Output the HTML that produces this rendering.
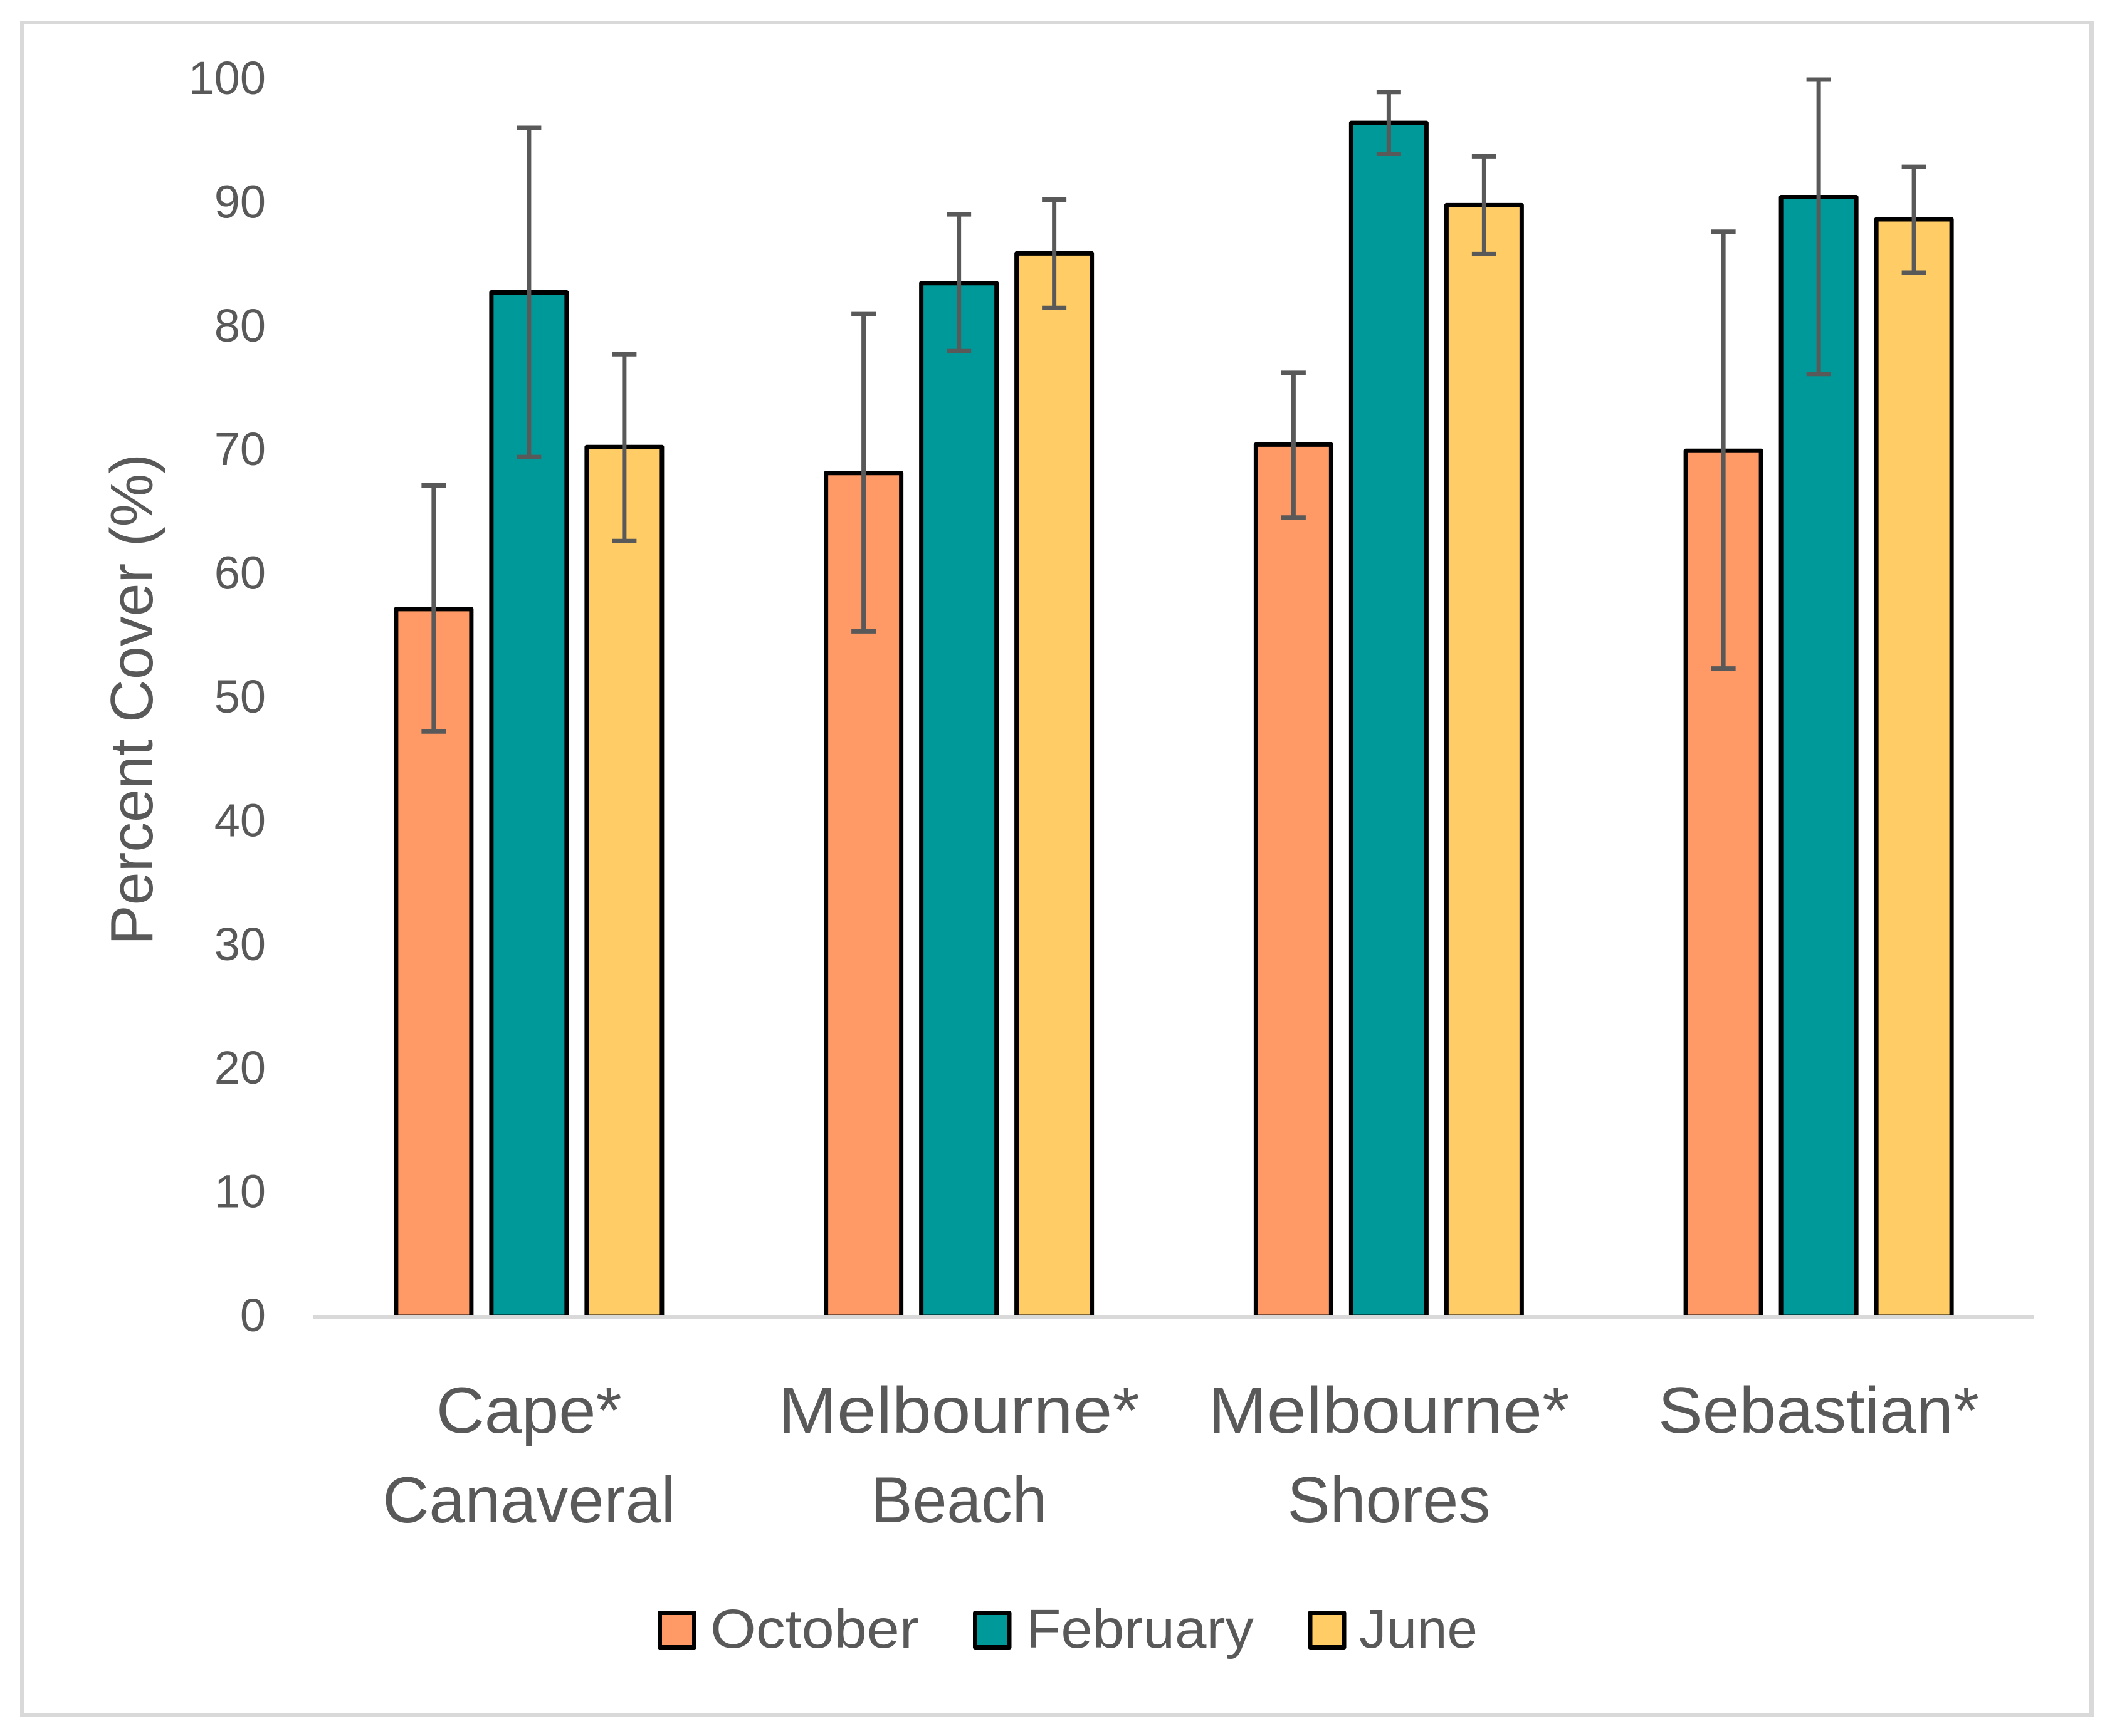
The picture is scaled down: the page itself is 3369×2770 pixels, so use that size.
<!DOCTYPE html>
<html lang="en">
<head>
<meta charset="utf-8">
<title>Percent Cover Chart</title>
<style>
html,body{margin:0;padding:0;background:#fff;}
svg{display:block;}
text{font-family:"Liberation Sans",sans-serif;fill:#595959;}
</style>
</head>
<body>
<svg id="chart" xmlns="http://www.w3.org/2000/svg" width="3369" height="2770" viewBox="0 0 3369 2770">
  <rect x="0" y="0" width="3369" height="2770" fill="#ffffff"/>
  <path fill="#d9d9d9" fill-rule="evenodd" d="M32 34H3340V2740H32Z M39 38V2733H3333V38Z"/>
  <text transform="translate(243,1116) rotate(-90)" text-anchor="middle" font-size="96" textLength="784" lengthAdjust="spacingAndGlyphs">Percent Cover (%)</text>
  <g id="y-ticks"></g>
  <g id="bars"></g>
  <rect x="500" y="2098" width="2745" height="7" fill="#d9d9d9"/>
  <g id="errors"></g>
  <g id="x-labels"></g>
  <g>
    <g>
      <rect x="1052.5" y="2573.5" width="55" height="55" fill="#ff9966" stroke="#000" stroke-width="7" stroke-linejoin="round"/>
      <text x="1133" y="2629" font-size="87" textLength="333" lengthAdjust="spacingAndGlyphs">October</text>
    </g>
    <g>
      <rect x="1555.5" y="2573.5" width="54.5" height="55" fill="#009999" stroke="#000" stroke-width="7" stroke-linejoin="round"/>
      <text x="1637" y="2629" font-size="87" textLength="363" lengthAdjust="spacingAndGlyphs">February</text>
    </g>
    <g>
      <rect x="2090" y="2573.5" width="54" height="55" fill="#ffcc66" stroke="#000" stroke-width="7" stroke-linejoin="round"/>
      <text x="2168" y="2629" font-size="87" textLength="189" lengthAdjust="spacingAndGlyphs">June</text>
    </g>
  </g>
</svg>
<script>
const categoryLines = [["Cape*", "Canaveral"], ["Melbourne*", "Beach"], ["Melbourne*", "Shores"], ["Sebastian*"]];
const seriesNames = ["october", "february", "june"];
const octoberValues = [57.2, 68.2, 70.5, 70.0];
const februaryValues = [82.8, 83.55, 96.5, 90.5];
const juneValues = [70.3, 85.95, 89.85, 88.7];
const octoberHigh = [67.2, 81.05, 76.3, 87.7];
const octoberLow = [47.3, 55.4, 64.6, 52.4];
const februaryHigh = [96.1, 89.1, 99.0, 100];
const februaryLow = [69.5, 78.05, 94.0, 76.2];
const juneHigh = [77.8, 90.3, 93.8, 92.95];
const juneLow = [62.7, 81.55, 85.9, 84.4];
const yTickLabels = [0, 10, 20, 30, 40, 50, 60, 70, 80, 90, 100];

const NS = "http://www.w3.org/2000/svg";
const seriesValues = [octoberValues, februaryValues, juneValues];
const seriesHigh = [octoberHigh, februaryHigh, juneHigh];
const seriesLow = [octoberLow, februaryLow, juneLow];
const seriesColors = ["#ff9966", "#009999", "#ffcc66"];
const labelFit = { "Cape*": 296, "Canaveral": 467, "Melbourne*": 577, "Beach": 280, "Shores": 324, "Sebastian*": 512 };

const plotLeft = 501, plotRight = 3244, yZero = 2101, yHundred = 127;
const barSpacing = 152, barWidth = 120, capHalf = 19.5;

function yScale(v) {
  return yZero - (v / 100) * (yZero - yHundred);
}
function groupCenter(i) {
  return plotLeft + (plotRight - plotLeft) * (i + 0.5) / categoryLines.length;
}
function barCenter(i, s) {
  return groupCenter(i) + (s - 1) * barSpacing;
}
function make(tag, attrs) {
  const el = document.createElementNS(NS, tag);
  for (const k in attrs) el.setAttribute(k, attrs[k]);
  return el;
}

const tickGroup = document.getElementById("y-ticks");
yTickLabels.forEach(function (t) {
  const el = make("text", { x: 424, y: yScale(t) + 23, "text-anchor": "end", "font-size": 74 });
  
  
  el.textContent = t;
  tickGroup.appendChild(el);
});

const barGroup = document.getElementById("bars");
const errorGroup = document.getElementById("errors");
categoryLines.forEach(function (lines, i) {
  seriesNames.forEach(function (name, s) {
    const cx = barCenter(i, s);
    const top = yScale(seriesValues[s][i]);
    const bar = make("rect", {
      x: cx - barWidth / 2,
      y: top,
      width: barWidth,
      height: yZero - top,
      fill: seriesColors[s],
      stroke: "#000",
      "stroke-width": 7,
      "stroke-linejoin": "round"
    });
    
    
    barGroup.appendChild(bar);

    const hi = yScale(seriesHigh[s][i]);
    const lo = yScale(seriesLow[s][i]);
    const err = make("path", {
      d: "M" + cx + " " + hi + "V" + lo +
         "M" + (cx - capHalf) + " " + hi + "H" + (cx + capHalf) +
         "M" + (cx - capHalf) + " " + lo + "H" + (cx + capHalf),
      fill: "none",
      stroke: "#595959",
      "stroke-width": 7
    });
    
    
    errorGroup.appendChild(err);
  });
});

const labelGroup = document.getElementById("x-labels");
const labelBaselines = [2286, 2429];
categoryLines.forEach(function (lines, i) {
  lines.forEach(function (line, n) {
    const el = make("text", {
      x: groupCenter(i),
      y: labelBaselines[n],
      "text-anchor": "middle",
      "font-size": 104,
      textLength: labelFit[line],
      lengthAdjust: "spacingAndGlyphs"
    });
    
    
    el.textContent = line;
    labelGroup.appendChild(el);
  });
});
</script>
</body>
</html>
